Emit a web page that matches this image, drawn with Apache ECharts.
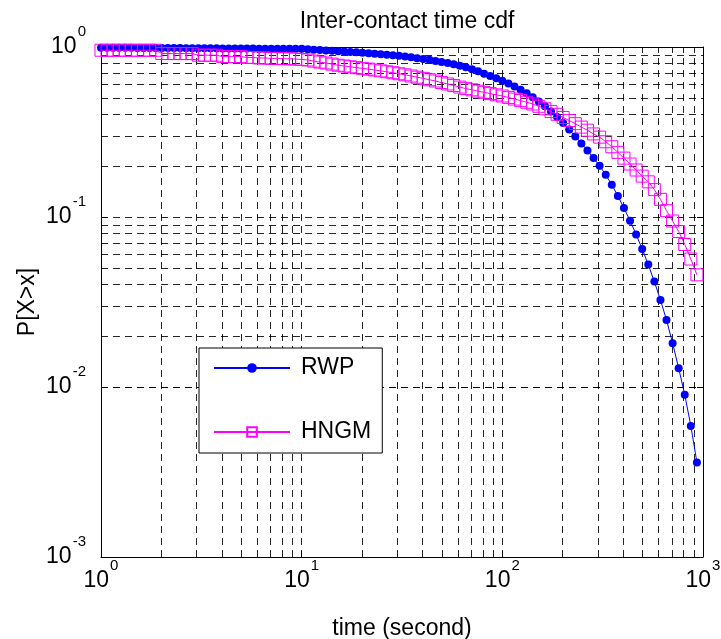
<!DOCTYPE html>
<html lang="en">
<head>
<meta charset="utf-8">
<title>Inter-contact time cdf</title>
<style>html,body{margin:0;padding:0;background:#fff;}</style>
</head>
<body>
<div id="main" style="width:721px;height:639px;"></div>
<script src="https://cdn.jsdelivr.net/npm/echarts@6.0.0/dist/echarts.min.js"></script>
<script>
// sample times (seconds), log spaced
var timeSec = [1, 1.072, 1.150, 1.233, 1.322, 1.417, 1.520, 1.630, 1.748, 1.874,
  2.009, 2.154, 2.310, 2.477, 2.656, 2.848, 3.054, 3.275, 3.511, 3.765,
  4.037, 4.329, 4.642, 4.977, 5.337, 5.722, 6.136, 6.579, 7.055, 7.565,
  8.111, 8.697, 9.326, 10.00, 10.72, 11.50, 12.33, 13.22, 14.17, 15.20,
  16.30, 17.48, 18.74, 20.09, 21.54, 23.10, 24.77, 26.56, 28.48, 30.54,
  32.75, 35.11, 37.65, 40.37, 43.29, 46.42, 49.77, 53.37, 57.22, 61.36,
  65.79, 70.55, 75.65, 81.11, 86.97, 93.26, 100.0, 107.2, 115.0, 123.3,
  132.2, 141.7, 152.0, 163.0, 174.8, 187.4, 200.9, 215.4, 231.0, 247.7,
  265.6, 284.8, 305.4, 327.5, 351.1, 376.5, 403.7, 432.9, 464.2, 497.7,
  533.7, 572.2, 613.6, 657.9, 705.5, 756.5, 811.1, 869.7, 932.6];

// P[X>x] for RWP
var rwp = [0.990, 0.990, 0.990, 0.989, 0.989, 0.989, 0.988, 0.988, 0.988, 0.987,
  0.986, 0.986, 0.985, 0.985, 0.984, 0.984, 0.983, 0.983, 0.982, 0.982,
  0.981, 0.981, 0.980, 0.980, 0.979, 0.979, 0.978, 0.978, 0.977, 0.977,
  0.977, 0.976, 0.976, 0.975, 0.971, 0.965, 0.960, 0.955, 0.950, 0.945,
  0.940, 0.935, 0.930, 0.925, 0.918, 0.912, 0.906, 0.900, 0.894, 0.888,
  0.878, 0.869, 0.859, 0.850, 0.840, 0.828, 0.816, 0.804, 0.791, 0.776,
  0.759, 0.740, 0.719, 0.697, 0.675, 0.655, 0.633, 0.610, 0.586, 0.561,
  0.535, 0.507, 0.478, 0.448, 0.417, 0.387, 0.357, 0.327, 0.298, 0.271,
  0.246, 0.222, 0.200, 0.177, 0.155, 0.133, 0.113, 0.0951, 0.0789, 0.0648,
  0.0525, 0.0417, 0.0325, 0.0248, 0.0181, 0.0129, 0.0090, 0.0059, 0.0036];

// P[X>x] for HNGM
var hngm = [0.957, 0.957, 0.957, 0.957, 0.957, 0.957, 0.957, 0.957, 0.957, 0.957,
  0.915, 0.915, 0.915, 0.915, 0.915, 0.915, 0.895, 0.895, 0.895, 0.895,
  0.878, 0.878, 0.878, 0.878, 0.868, 0.868, 0.862, 0.862, 0.857, 0.857,
  0.853, 0.853, 0.849, 0.845, 0.839, 0.826, 0.815, 0.805, 0.793, 0.781,
  0.773, 0.765, 0.756, 0.749, 0.741, 0.732, 0.724, 0.715, 0.706, 0.696,
  0.686, 0.675, 0.664, 0.654, 0.642, 0.631, 0.618, 0.606, 0.594, 0.581,
  0.569, 0.560, 0.550, 0.541, 0.532, 0.523, 0.515, 0.505, 0.494, 0.484,
  0.473, 0.462, 0.448, 0.433, 0.417, 0.402, 0.385, 0.369, 0.354, 0.338,
  0.324, 0.308, 0.295, 0.277, 0.259, 0.240, 0.222, 0.205, 0.189, 0.174,
  0.161, 0.145, 0.127, 0.109, 0.0947, 0.0822, 0.0689, 0.0566, 0.0457];

// grid line positions (major + minor)
var xGridVals = [2, 3, 4, 5, 6, 7, 8, 9, 10, 20, 30, 40, 50, 60, 70, 80, 90,
  100, 200, 300, 400, 500, 600, 700, 800, 900];
var yGridVals = [0.002, 0.003, 0.004, 0.005, 0.006, 0.007, 0.008, 0.009, 0.01,
  0.02, 0.03, 0.04, 0.05, 0.06, 0.07, 0.08, 0.09, 0.1,
  0.2, 0.3, 0.4, 0.5, 0.6, 0.7, 0.8, 0.9];

var FONT = 'Liberation Sans';
var chart = echarts.init(document.getElementById('main'));

// 10^n labels, exponent raised with bottom padding
function powLabel(v) {
  var e = Math.round(Math.log10(v));
  return '{b|10}{s|' + e + '}';
}
var richPow = {
  b: {fontSize: 23, fontFamily: FONT, color: '#000', lineHeight: 24},
  s: {fontSize: 15, fontFamily: FONT, color: '#000', lineHeight: 15, padding: [0, 0, 30, 1]}
};

var gridLines = [];
xGridVals.forEach(function (v) { gridLines.push({xAxis: v}); });
yGridVals.forEach(function (v) { gridLines.push({yAxis: v}); });

var option = {
  animation: false,
  backgroundColor: '#fff',
  title: {
    text: 'Inter-contact time cdf',
    left: 402,
    textAlign: 'center',
    top: 5,
    textStyle: {fontFamily: FONT, fontSize: 23, fontWeight: 'normal', color: '#000'}
  },
  grid: {left: 101, right: 18, top: 47, bottom: 82, containLabel: false, outerBoundsMode: 'none'},
  legend: {
    data: ['RWP', 'HNGM'],
    orient: 'vertical',
    left: 199,
    top: 348,
    padding: [6, 11, 7, 14],
    itemGap: 36,
    itemWidth: 76,
    itemHeight: 12,
    borderColor: '#000',
    borderWidth: 1,
    backgroundColor: '#fff',
    selectedMode: false,
    textStyle: {fontFamily: FONT, fontSize: 23, color: '#000', lineHeight: 28, padding: [0, 0, 0, 6]}
  },
  xAxis: [{
    type: 'log', logBase: 10, min: 1, max: 1000,
    name: 'time (second)', nameLocation: 'middle', nameGap: 60,
    nameTextStyle: {fontFamily: FONT, fontSize: 23, color: '#000'},
    axisLine: {lineStyle: {color: '#000', width: 1}},
    axisTick: {inside: true, length: 6, lineStyle: {color: '#000'}},
    axisLabel: {margin: 12, formatter: powLabel, rich: richPow},
    splitLine: {show: false}
  }, {
    type: 'log', logBase: 10, min: 1, max: 1000, position: 'top',
    axisLine: {lineStyle: {color: '#000', width: 1}},
    axisTick: {inside: true, length: 6, lineStyle: {color: '#000'}},
    axisLabel: {show: false},
    splitLine: {show: false}
  }],
  yAxis: [{
    type: 'log', logBase: 10, min: 0.001, max: 1,
    name: 'P[X>x]', nameLocation: 'middle', nameGap: 62, nameMoveOverlap: false,
    nameTextStyle: {fontFamily: FONT, fontSize: 23, color: '#000'},
    axisLine: {show: true, lineStyle: {color: '#000', width: 1}},
    axisTick: {show: true, inside: true, length: 6, lineStyle: {color: '#000'}},
    axisLabel: {margin: 15, formatter: powLabel, rich: richPow},
    splitLine: {show: false}
  }, {
    type: 'log', logBase: 10, min: 0.001, max: 1, position: 'right',
    axisLine: {show: true, lineStyle: {color: '#000', width: 1}},
    axisTick: {show: true, inside: true, length: 6, lineStyle: {color: '#000'}},
    axisLabel: {show: false},
    splitLine: {show: false}
  }],
  series: [{
    name: 'RWP',
    type: 'line',
    z: 3,
    data: timeSec.map(function (t, i) { return [t, rwp[i]]; }),
    symbol: 'circle',
    symbolSize: 8,
    color: '#0000ff',
    itemStyle: {color: '#0000ff'},
    lineStyle: {color: '#0000ff', width: 1},
    markLine: {
      silent: true,
      z: 1,
      symbol: ['none', 'none'],
      label: {show: false},
      emphasis: {disabled: true},
      lineStyle: {color: '#000', width: 1, type: [7, 5], opacity: 0.85},
      data: gridLines
    }
  }, {
    name: 'HNGM',
    type: 'line',
    z: 4,
    data: timeSec.map(function (t, i) { return [t, hngm[i]]; }),
    symbol: 'rect',
    symbolSize: 12,
    color: '#ff00ff',
    itemStyle: {color: 'rgba(255,255,255,0)', borderColor: '#ff00ff', borderWidth: 1},
    lineStyle: {color: '#ff00ff', width: 1}
  }]
};
chart.setOption(option);
</script>
</body>
</html>
